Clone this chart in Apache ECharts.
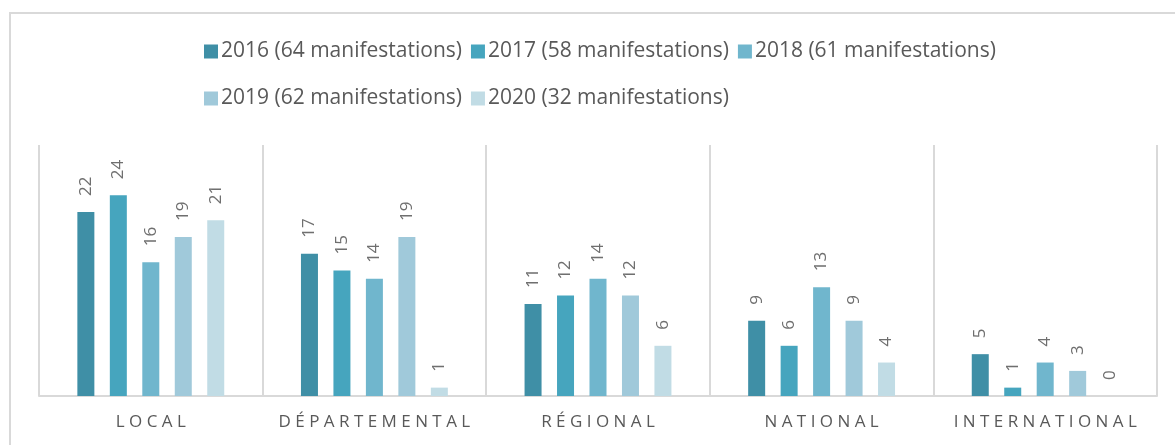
<!DOCTYPE html>
<html>
<head>
<meta charset="utf-8">
<script src="https://cdn.jsdelivr.net/npm/echarts@6/dist/echarts.min.js"></script>
<style>
  html,body{margin:0;padding:0;background:#fff;}
  #frame{position:absolute;left:9px;top:12px;width:1180px;height:450px;border:2px solid #d9d9d9;box-sizing:border-box;}
  #main{width:1175px;height:445px;}
</style>
</head>
<body>
<div id="frame"></div>
<div id="main"></div>
<script>
const categories = ['LOCAL', 'DÉPARTEMENTAL', 'RÉGIONAL', 'NATIONAL', 'INTERNATIONAL']
const seriesNames = ['2016 (64 manifestations)', '2017 (58 manifestations)', '2018 (61 manifestations)', '2019 (62 manifestations)', '2020 (32 manifestations)']
const v2016 = [22, 17, 11, 9, 5]
const v2017 = [24, 15, 12, 6, 1]
const v2018 = [16, 14, 14, 13, 4]
const v2019 = [19, 19, 12, 9, 3]
const v2020 = [21, 1, 6, 4, 0]
const colors = ['#3f8fa6', '#46a5be', '#70b6cd', '#a0c9da', '#c1dce5']

const allValues = [v2016, v2017, v2018, v2019, v2020]

// spaced letters to imitate the wide tracking of the axis labels
function spaced(s){ return s.split('').join(' ') }

let legendText = { fontSize: 21, color: '#595959', padding: [0, 0, 0, -2] }

let myChart = echarts.init(document.getElementById('main'))
myChart.setOption({
  animation: false,
  textStyle: { fontFamily: '"Open Sans", sans-serif' },
  legend: [
    {
      data: seriesNames.slice(0, 3),
      left: 199, top: 36,
      itemWidth: 14, itemHeight: 14, itemGap: 9,
      icon: 'rect',
      textStyle: legendText
    },
    {
      data: seriesNames.slice(3),
      left: 199, top: 83,
      itemWidth: 14, itemHeight: 14, itemGap: 9,
      icon: 'rect',
      textStyle: legendText
    }
  ],
  grid: { left: 39, right: 18, top: 145, bottom: 49 },
  xAxis: {
    type: 'category',
    data: categories,
    axisTick: { show: false },
    axisLine: { lineStyle: { color: '#d9d9d9', width: 2 } },
    splitLine: { show: true, interval: 0, lineStyle: { color: '#d9d9d9', width: 2 } },
    axisLabel: {
      interval: 0,
      margin: 18, fontSize: 17, color: '#595959',
      formatter: v => spaced(v)
    }
  },
  yAxis: {
    type: 'value',
    min: 0, max: 30, interval: 5,
    axisLabel: { show: false },
    axisTick: { show: false },
    axisLine: { show: false },
    splitLine: { show: false }
  },
  series: seriesNames.map((name, i) => ({
    name: name,
    type: 'bar',
    data: allValues[i],
    barWidth: 17,
    barGap: '91%',
    itemStyle: { color: colors[i] },
    label: {
      show: true,
      position: 'top',
      rotate: 90,
      align: 'left',
      verticalAlign: 'middle',
      distance: 16,
      fontSize: 17,
      color: '#6f6f6f'
    }
  }))
})
</script>
</body>
</html>
